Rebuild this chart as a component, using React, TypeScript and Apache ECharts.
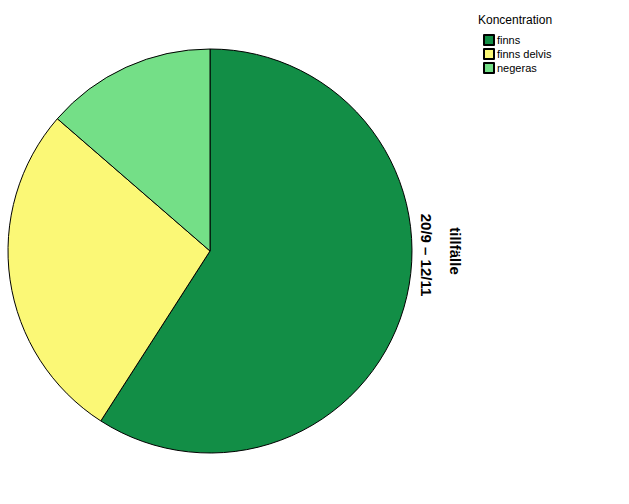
import React, { useEffect, useRef } from "react";
import * as echarts from "echarts";

const categories = ["finns", "finns delvis", "negeras"];
const counts = [13, 6, 3];
const colors = ["#128e46", "#fbf876", "#74df87"];
const legendTitle = "Koncentration";
const axisTitle = "tillfälle";
const periodLabel = "20/9 – 12/11";

export default function App() {
  const ref = useRef<HTMLDivElement>(null);
  useEffect(() => {
    if (!ref.current) return;
    const chart = echarts.init(ref.current, null, { renderer: "svg" });
    chart.setOption({
      animation: false,
      backgroundColor: "#ffffff",
      legend: {
        orient: "vertical",
        left: 483,
        top: 34,
        padding: 0,
        icon: "rect",
        itemWidth: 10,
        itemHeight: 10,
        itemGap: 2,
        data: categories,
        textStyle: {
          fontFamily: "Liberation Sans, Arial",
          fontSize: 11,
          color: "#000",
          padding: [0, 0, 0, -2],
        },
      },
      graphic: [
        {
          type: "text",
          left: 478,
          top: 14,
          style: { text: legendTitle, fontFamily: "Liberation Sans, Arial", fontSize: 12, fill: "#000" },
        },
        {
          type: "text",
          x: 455,
          y: 251,
          rotation: -Math.PI / 2,
          style: {
            text: axisTitle,
            fontFamily: "Liberation Sans, Arial",
            fontSize: 15,
            fontWeight: "bold",
            fill: "#000",
            align: "center",
            verticalAlign: "middle",
          },
        },
        {
          type: "text",
          x: 426,
          y: 255,
          rotation: -Math.PI / 2,
          style: {
            text: periodLabel,
            fontFamily: "Liberation Sans, Arial",
            fontSize: 15,
            fontWeight: "bold",
            fill: "#000",
            align: "center",
            verticalAlign: "middle",
          },
        },
      ],
      series: [
        {
          type: "pie",
          center: [210, 251],
          radius: 202,
          startAngle: 90,
          clockwise: true,
          label: { show: false },
          labelLine: { show: false },
          emphasis: { disabled: true },
          itemStyle: { borderColor: "#000", borderWidth: 1 },
          data: categories.map((name, i) => ({
            name,
            value: counts[i],
            itemStyle: { color: colors[i] },
          })),
        },
      ],
    });
    return () => chart.dispose();
  }, []);
  return (
    <div
      ref={ref}
      style={{ position: "fixed", left: 0, top: 0, width: 629, height: 504 }}
    />
  );
}
